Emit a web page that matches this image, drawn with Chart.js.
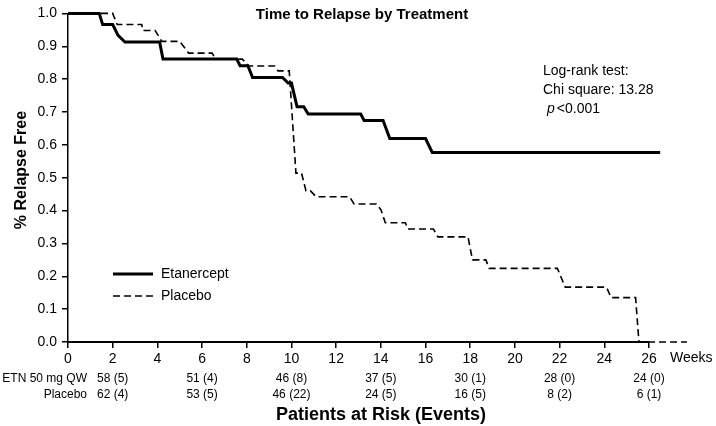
<!DOCTYPE html>
<html>
<head>
<meta charset="utf-8">
<script src="https://cdn.jsdelivr.net/npm/chart.js@4.4.1/dist/chart.umd.min.js"></script>
<style>
  html, body { margin: 0; padding: 0; background: #fff; }
  #wrap { position: relative; width: 716px; height: 426px; }
</style>
</head>
<body>
<div id="wrap"><canvas id="c" width="716" height="426"></canvas></div>
<script>
// ---- Data ----
const etnWeeks = [0, 1.4, 1.55, 2.0, 2.24, 2.55, 4.1, 4.25, 7.55, 7.7, 8.05, 8.26, 9.6, 9.85, 10.0, 10.25, 10.55, 10.75, 13.1, 13.25, 14.1, 14.4, 16.0, 16.3, 26.5];
const etnSurv  = [1.0, 1.0, 0.966, 0.966, 0.933, 0.913, 0.913, 0.861, 0.861, 0.841, 0.841, 0.805, 0.805, 0.788, 0.788, 0.716, 0.716, 0.694, 0.694, 0.674, 0.674, 0.619, 0.619, 0.577, 0.577];

const plaWeeks = [0, 2.0, 2.2, 3.3, 3.35, 3.9, 4.2, 5.0, 5.4, 6.45, 6.6, 7.8, 8.1, 9.25, 9.4, 9.9, 10.2, 10.45, 10.65, 10.85, 11.1, 12.6, 12.8, 13.8, 14.0, 14.2, 15.1, 15.2, 16.35, 16.55, 17.9, 18.1, 18.7, 18.85, 21.9, 22.25, 24.1, 24.3, 25.4, 25.55, 27.7];
const plaSurv  = [1.0, 1.0, 0.966, 0.966, 0.948, 0.948, 0.915, 0.915, 0.879, 0.879, 0.861, 0.861, 0.840, 0.840, 0.825, 0.825, 0.514, 0.514, 0.46, 0.46, 0.442, 0.442, 0.42, 0.42, 0.403, 0.363, 0.363, 0.344, 0.344, 0.32, 0.32, 0.25, 0.25, 0.224, 0.224, 0.167, 0.167, 0.135, 0.135, 0.0, 0.0];

const riskWeeks   = [2, 6, 10, 14, 18, 22, 26];
const etnAtRisk   = [58, 51, 46, 37, 30, 28, 24];
const etnEvents   = [5, 4, 8, 5, 1, 0, 0];
const plaAtRisk   = [62, 53, 46, 24, 16, 8, 6];
const plaEvents   = [4, 5, 22, 5, 5, 2, 1];

const seriesNames = ['Etanercept', 'Placebo'];
const riskRowLabels = ['ETN 50 mg QW', 'Placebo'];
const titleText = 'Time to Relapse by Treatment';
const yTitleText = '% Relapse Free';
const xUnitText = 'Weeks';
const riskTitleText = 'Patients at Risk (Events)';
const statLines = ['Log-rank test:', 'Chi square: 13.28'];
const pLabel = 'p';
const pValueText = '<0.001';

// ---- Chart ----
const FONT = '"Liberation Sans", Arial, Helvetica, sans-serif';
const toPts = (xs, ys) => xs.map((x, i) => ({ x: x, y: ys[i] }));

const overlay = {
  id: 'overlay',
  afterDraw(chart) {
    const ctx = chart.ctx;
    const xs = chart.scales.x;
    ctx.save();
    ctx.fillStyle = '#000';
    ctx.strokeStyle = '#000';

    // Title
    ctx.font = 'bold 15px ' + FONT;
    ctx.textAlign = 'center';
    ctx.textBaseline = 'middle';
    ctx.fillText(titleText, 362, 15);

    // Y title
    ctx.save();
    ctx.translate(22, 170);
    ctx.rotate(-Math.PI / 2);
    ctx.font = 'bold 16px ' + FONT;
    ctx.fillText(yTitleText, 0, 0);
    ctx.restore();

    // Weeks unit
    ctx.font = '14px ' + FONT;
    ctx.textAlign = 'left';
    ctx.fillText(xUnitText, 670, 358);

    // Stats
    ctx.font = '14px ' + FONT;
    ctx.textAlign = 'left';
    ctx.fillText(statLines[0], 543, 71);
    ctx.fillText(statLines[1], 543, 90);
    ctx.font = 'italic 14px ' + FONT;
    ctx.fillText(pLabel, 547, 109);
    const pw = ctx.measureText(pLabel).width;
    ctx.font = '14px ' + FONT;
    ctx.fillText(pValueText, 547 + pw + 2, 109);

    // Legend
    const legY = [274, 296];
    ctx.lineCap = 'butt';
    ctx.beginPath();
    ctx.lineWidth = 3;
    ctx.setLineDash([]);
    ctx.moveTo(113, legY[0]); ctx.lineTo(153, legY[0]);
    ctx.stroke();
    ctx.beginPath();
    ctx.lineWidth = 1.6;
    ctx.setLineDash([7, 4]);
    ctx.moveTo(113, legY[1]); ctx.lineTo(153, legY[1]);
    ctx.stroke();
    ctx.setLineDash([]);
    ctx.font = '14px ' + FONT;
    ctx.textAlign = 'left';
    ctx.fillText(seriesNames[0], 161, legY[0]);
    ctx.fillText(seriesNames[1], 161, legY[1]);

    // Risk table
    const rowY = [379, 395];
    ctx.font = '12px ' + FONT;
    ctx.textAlign = 'right';
    ctx.fillText(riskRowLabels[0], 87, rowY[0]);
    ctx.fillText(riskRowLabels[1], 87, rowY[1]);
    ctx.textAlign = 'center';
    riskWeeks.forEach((w, i) => {
      const px = xs.getPixelForValue(w);
      ctx.fillText(etnAtRisk[i] + ' (' + etnEvents[i] + ')', px, rowY[0]);
      ctx.fillText(plaAtRisk[i] + ' (' + plaEvents[i] + ')', px, rowY[1]);
    });

    ctx.font = 'bold 18px ' + FONT;
    ctx.textAlign = 'center';
    ctx.fillText(riskTitleText, 381, 415);
    ctx.restore();
  }
};

new Chart(document.getElementById('c'), {
  type: 'line',
  data: {
    datasets: [
      {
        label: seriesNames[0],
        data: toPts(etnWeeks, etnSurv),
        borderColor: '#000',
        borderWidth: 3,
        pointRadius: 0,
        tension: 0,
        fill: false,
        clip: false,
        borderJoinStyle: 'miter'
      },
      {
        label: seriesNames[1],
        data: toPts(plaWeeks, plaSurv),
        borderColor: '#000',
        borderWidth: 1.6,
        borderDash: [7, 4],
        pointRadius: 0,
        tension: 0,
        fill: false,
        clip: false
      }
    ]
  },
  options: {
    responsive: false,
    animation: false,
    devicePixelRatio: 1,
    layout: { padding: { left: 0, right: 67, top: 7, bottom: 0 } },
    plugins: { legend: { display: false }, tooltip: { enabled: false }, title: { display: false } },
    scales: {
      x: {
        type: 'linear',
        min: 0, max: 26,
        afterFit(s) { s.height = 84; },
        ticks: { stepSize: 2, color: '#000', font: { family: FONT, size: 14 }, padding: 3, maxRotation: 0, autoSkip: false },
        grid: { drawOnChartArea: false, drawTicks: true, tickLength: 6, color: '#000', lineWidth: 1.5 },
        border: { display: true, color: '#000', width: 2 }
      },
      y: {
        type: 'linear',
        min: 0, max: 1,
        afterFit(s) { s.width = 68; },
        ticks: { stepSize: 0.1, color: '#000', font: { family: FONT, size: 14 }, padding: 5,
                 callback: v => v.toFixed(1) },
        grid: { drawOnChartArea: false, drawTicks: true, tickLength: 6, color: '#000', lineWidth: 1.5 },
        border: { display: true, color: '#000', width: 1.5 }
      }
    }
  },
  plugins: [overlay]
});
</script>
</body>
</html>
